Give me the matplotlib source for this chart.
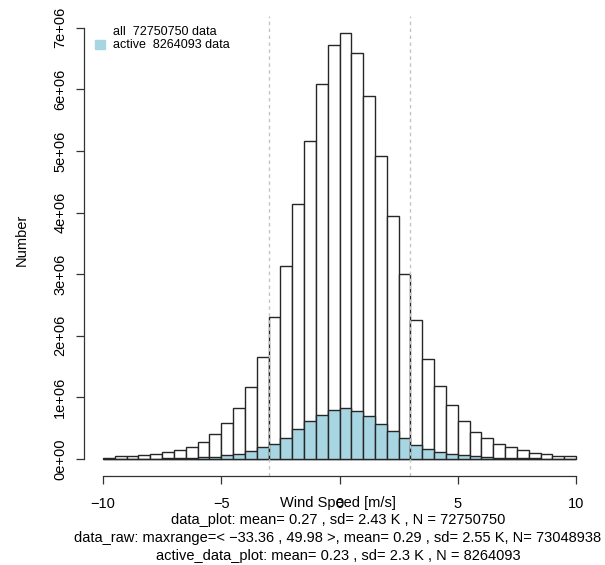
import numpy as np
import matplotlib
matplotlib.use("Agg")
import matplotlib.pyplot as plt

plt.rcParams['font.family'] = ['Liberation Sans', 'DejaVu Sans']

# histogram bins, width 0.5 m/s, from -10 to 10
bin_left = np.arange(-10, 10, 0.5)

# all data counts per bin
all_counts = [0.02e6, 0.04e6, 0.04e6, 0.06e6, 0.08e6, 0.11e6, 0.15e6, 0.19e6,
              0.28e6, 0.41e6, 0.58e6, 0.82e6, 1.17e6, 1.66e6, 2.31e6, 3.14e6,
              4.14e6, 5.16e6, 6.08e6, 6.72e6, 6.92e6, 6.59e6, 5.89e6, 4.92e6,
              3.94e6, 3.01e6, 2.25e6, 1.63e6, 1.19e6, 0.87e6, 0.62e6, 0.44e6,
              0.34e6, 0.25e6, 0.19e6, 0.14e6, 0.10e6, 0.08e6, 0.05e6, 0.05e6]

# active data counts per bin
active_counts = [0.002e6, 0.003e6, 0.004e6, 0.005e6, 0.007e6, 0.01e6, 0.012e6, 0.015e6,
                 0.03e6, 0.03e6, 0.06e6, 0.08e6, 0.13e6, 0.19e6, 0.25e6, 0.34e6,
                 0.48e6, 0.61e6, 0.71e6, 0.80e6, 0.82e6, 0.78e6, 0.69e6, 0.56e6,
                 0.45e6, 0.34e6, 0.23e6, 0.16e6, 0.12e6, 0.08e6, 0.06e6, 0.04e6,
                 0.035e6, 0.02e6, 0.015e6, 0.01e6, 0.008e6, 0.006e6, 0.004e6, 0.003e6]

vlines = [-3, 3]
xticks = [-10, -5, 0, 5, 10]
yticks = [0, 1e6, 2e6, 3e6, 4e6, 5e6, 6e6, 7e6]
ytick_labels = ["0e+00", "1e+06", "2e+06", "3e+06", "4e+06", "5e+06", "6e+06", "7e+06"]

legend_labels = ["all  72750750 data", "active  8264093 data"]
stats_lines = ["data_plot: mean= 0.27 , sd= 2.43 K , N = 72750750",
               "data_raw: maxrange=< \u221233.36 , 49.98 >, mean= 0.29 , sd= 2.55 K, N= 73048938",
               "active_data_plot: mean= 0.23 , sd= 2.3 K , N = 8264093"]

W, H = 605, 565
fig = plt.figure(figsize=(W / 100, H / 100), dpi=100)
ax = fig.add_axes([84 / W, (H - 476) / H, 511 / W, 460.3 / H])

ax.bar(bin_left, all_counts, width=0.5, align='edge', color='white',
       edgecolor='#262626', linewidth=1.0)
ax.bar(bin_left, active_counts, width=0.5, align='edge', color='#a7d5e2',
       edgecolor='#262626', linewidth=1.0)
for v in vlines:
    ax.axvline(v, color='#c4c4c4', linestyle=(0, (2.5, 2.5)), linewidth=1.0)

ax.set_xlim(-10.8, 10.8)
ax.set_ylim(-0.277e6, 7.197e6)
for s in ['top', 'right']:
    ax.spines[s].set_visible(False)
ax.spines['left'].set_bounds(0, 7e6)
ax.spines['bottom'].set_bounds(-10, 10)
for s in ['left', 'bottom']:
    ax.spines[s].set_color('#333333')
    ax.spines[s].set_linewidth(0.9)

ax.set_xticks(xticks)
ax.set_xticklabels(["\u221210", "\u22125", "0", "5", "10"])
ax.set_yticks(yticks)
ax.set_yticklabels(ytick_labels, rotation=90, va='center')
ax.tick_params(axis='x', direction='out', length=6, width=0.9, color='#333333',
               labelsize=10.5, pad=9)
ax.tick_params(axis='y', direction='out', length=6, width=0.9, color='#333333',
               labelsize=10.5, pad=6)

fig.text(338 / W, 1 - 503 / H, "Wind Speed [m/s]", ha='center', va='center', fontsize=10.5)
for i, line in enumerate(stats_lines):
    fig.text(338 / W, 1 - (520 + 17.8 * i) / H, line, ha='center', va='center', fontsize=10.5)
fig.text(22 / W, 1 - 240 / H, "Number", rotation=90, ha='center', va='center', fontsize=10.5)

# legend
fig.text(113 / W, 1 - 32 / H, legend_labels[0], ha='left', va='center', fontsize=9)
fig.text(113 / W, 1 - 45 / H, legend_labels[1], ha='left', va='center', fontsize=9)
fig.patches.append(plt.Rectangle((95 / W, 1 - 49 / H), 10 / W, 9 / H,
                                 transform=fig.transFigure, color='#a7d5e2', figure=fig))

fig.savefig("out.png", dpi=100)
